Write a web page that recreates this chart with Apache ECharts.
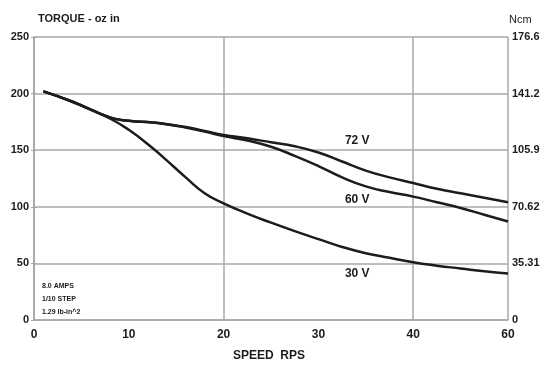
<!DOCTYPE html>
<html>
<head>
<meta charset="utf-8">
<script src="https://cdn.jsdelivr.net/npm/echarts@6/dist/echarts.min.js"></script>
<style>html,body{margin:0;padding:0;background:#fff}#c{width:551px;height:367px}</style>
</head>
<body>
<div id="c"></div>
<script>
// Speed (RPS) sample points shared by all three curves
const speed = [1, 4, 8, 10, 12.5, 14, 16, 18, 20, 22.5, 25, 27.5, 30, 32.5, 35, 37.5, 40, 42.5, 45, 47.5, 50];
// Pull-out torque, oz-in
const torque72V = [202, 193, 179, 176, 174.5, 173, 170.5, 167, 163.5, 160.5, 157, 153.5, 148, 140, 132, 126, 121, 116, 112, 108, 104];
const torque60V = [202, 193, 179, 176, 174.5, 173, 170, 166.5, 162.5, 158.5, 153, 145, 136, 126, 118, 113, 109, 104, 99, 93, 87];
const torque30V = [202, 193, 178, 168, 152, 141, 126, 112, 103, 94, 86, 78.5, 71.5, 64.5, 59, 55, 51, 48, 45.5, 43, 41];
// Curve label anchors [speed, torque]
const labelPos = { '72 V': [34.1, 158], '60 V': [34.1, 106], '30 V': [34.1, 41] };
// Tick labels
const xTickLabels = ['0', '10', '20', '30', '40', '60'];
const ncmTickLabels = ['0', '35.31', '70.62', '105.9', '141.2', '176.6'];
const notes = ['8.0 AMPS', '1/10 STEP', '1.29 lb-in^2'];

const FONT = 'Liberation Sans, Arial, sans-serif';
const GRID = '#a8a8a8';
const INK = '#1c1c1c';

function pairs(ys) { return speed.map((x, i) => [x, ys[i]]); }
function curve(name, ys) {
  return {
    type: 'line', name, data: pairs(ys), smooth: 0.5, symbol: 'none',
    lineStyle: { color: INK, width: 2.5 },
    xAxisIndex: 0, yAxisIndex: 0, z: 5,
    markPoint: {
      symbol: 'circle', symbolSize: 0, silent: true,
      itemStyle: { color: 'rgba(0,0,0,0)' },
      data: [{ coord: labelPos[name], value: name }],
      label: { show: true, position: 'inside', formatter: name, color: INK, fontFamily: FONT, fontWeight: 'bold', fontSize: 12 }
    }
  };
}

const chart = echarts.init(document.getElementById('c'), null, { renderer: 'canvas' });
chart.setOption({
  animation: false,
  backgroundColor: '#fff',
  grid: { left: 34, right: 43, top: 37, bottom: 47 },
  xAxis: [
    {
      type: 'value', min: 0, max: 50, interval: 10,
      axisLine: { show: true, lineStyle: { color: GRID, width: 1.5 } },
      axisTick: { show: false },
      splitLine: { show: false },
      axisLabel: { color: INK, fontFamily: FONT, fontWeight: 'bold', fontSize: 12, margin: 9,
        formatter: (v) => xTickLabels[Math.round(v / 10)] }
    },
    {
      // carries the vertical grid lines every 20 RPS
      type: 'value', min: 0, max: 50, interval: 20, position: 'bottom',
      axisLine: { show: false }, axisTick: { show: false }, axisLabel: { show: false },
      splitLine: { show: true, lineStyle: { color: GRID, width: 1.5 } }
    }
  ],
  yAxis: [
    {
      type: 'value', min: 0, max: 250, interval: 50,
      axisLine: { show: true, lineStyle: { color: GRID, width: 1.5 } },
      axisTick: { show: true, length: 3, lineStyle: { color: GRID } },
      splitLine: { show: true, lineStyle: { color: GRID, width: 1.5 } },
      axisLabel: { color: INK, fontFamily: FONT, fontWeight: 'bold', fontSize: 11, margin: 5 }
    },
    {
      type: 'value', min: 0, max: 250, interval: 50, position: 'right',
      axisLine: { show: true, lineStyle: { color: GRID, width: 1.5 } },
      axisTick: { show: true, length: 3, lineStyle: { color: GRID } },
      splitLine: { show: false },
      axisLabel: { color: INK, fontFamily: FONT, fontWeight: 'bold', fontSize: 11, margin: 4,
        formatter: (v) => ncmTickLabels[Math.round(v / 50)] }
    }
  ],
  graphic: [
    { type: 'text', left: 38, top: 13,
      style: { text: 'TORQUE - oz in', fill: INK, font: 'bold 11px ' + FONT } },
    { type: 'text', left: 509, top: 14,
      style: { text: 'Ncm', fill: INK, font: '11px ' + FONT } },
    { type: 'text', left: 233, top: 350,
      style: { text: 'SPEED  RPS', fill: INK, font: 'bold 12px ' + FONT } },
    { type: 'text', left: 42, top: 280,
      style: { text: notes.join('\n'), fill: INK, font: 'bold 7px ' + FONT, lineHeight: 13 } }
  ],
  series: [curve('72 V', torque72V), curve('60 V', torque60V), curve('30 V', torque30V)]
});
</script>
</body>
</html>
